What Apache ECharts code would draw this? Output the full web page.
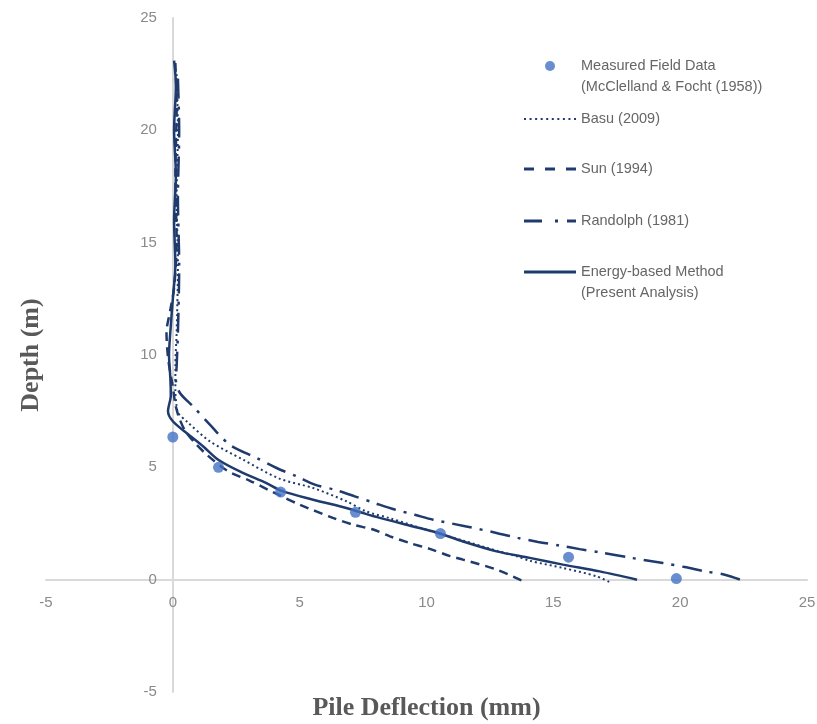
<!DOCTYPE html>
<html>
<head>
<meta charset="utf-8">
<script src="https://cdn.jsdelivr.net/npm/echarts@6/dist/echarts.min.js"></script>
<style>
html,body{margin:0;padding:0;background:#fff;}
#chart{width:817px;height:724px;}
</style>
</head>
<body>
<div id="chart"></div>
<script>
// ---- Data (x = pile deflection in mm, y = depth in m) ----
const xTicks = { min: -5, max: 25, interval: 5 };
const yTicks = { min: -5, max: 25, interval: 5 };

const measuredX = [0, 1.8, 4.25, 7.2, 10.55, 15.6, 19.85];
const measuredY = [6.35, 5.0, 3.9, 3.0, 2.05, 1.0, 0.05];

const basuX = [0.15, 0.2, 0.15, 0.2, 0.15, 0.1, 0.1, 0.14, 0.21, 0.54, 1.46, 2.77, 4.2, 5.53, 6.84, 7.62, 8.6, 10.0, 11.5, 12.8, 13.6, 14.07, 15.38, 16.7, 17.29];
const basuY = [22.5, 20, 17, 14, 11, 9.5, 8.4, 7.8, 7.42, 7.05, 6.16, 5.34, 4.5, 4.08, 3.49, 3.04, 2.72, 2.22, 1.72, 1.28, 1.03, 0.84, 0.52, 0.15, -0.15];

const sunX = [0.1, 0.15, 0.1, 0.15, 0.05, -0.1, -0.25, -0.2, -0.1, 0.0, 0.1, 0.25, 0.5, 0.9, 1.35, 1.97, 2.31, 3.04, 3.76, 4.22, 5.0, 6.31, 7.1, 7.9, 8.56, 9.34, 10.13, 10.93, 11.44, 12.76, 13.88];
const sunY = [23.0, 21, 18, 15, 13, 12, 11, 10, 9.2, 8.6, 7.8, 7.2, 6.6, 6.05, 5.55, 4.98, 4.75, 4.4, 4.0, 3.75, 3.34, 2.75, 2.45, 2.23, 1.93, 1.63, 1.37, 1.05, 0.89, 0.45, -0.1];

const randolphX = [0.2, 0.25, 0.2, 0.25, 0.2, 0.15, 0.12, 0.28, 0.8, 1.46, 2.25, 3.3, 4.09, 4.88, 5.6, 6.39, 7.17, 7.96, 8.75, 9.54, 10.26, 11.57, 12.76, 13.6, 14.4, 15.25, 16.04, 16.9, 18.07, 19.32, 20.18, 20.97, 21.76, 22.55];
const randolphY = [22.3, 20, 17, 14, 11, 9.5, 8.9, 8.31, 7.71, 6.9, 6.0, 5.42, 4.97, 4.6, 4.23, 4.0, 3.71, 3.41, 3.12, 2.89, 2.67, 2.37, 2.08, 1.86, 1.68, 1.52, 1.36, 1.2, 0.97, 0.74, 0.56, 0.37, 0.22, -0.07];

const energyX = [0.05, 0.12, 0.05, 0.12, 0.05, 0.1, 0.0, -0.1, -0.15, -0.1, -0.08, -0.19, 0.0, 0.54, 1.2, 1.79, 2.64, 3.69, 4.3, 5.53, 6.84, 7.4, 8.16, 9.47, 10.46, 11.44, 12.76, 14.07, 15.38, 16.83, 18.3];
const energyY = [23.1, 22, 20, 18, 16, 14, 12.5, 11, 10, 9, 8.2, 7.5, 7.05, 6.53, 5.93, 5.34, 4.82, 4.3, 3.95, 3.56, 3.19, 3.0, 2.75, 2.37, 2.08, 1.7, 1.26, 0.97, 0.67, 0.37, 0.0];

const names = {
  measured: 'Measured Field Data\n(McClelland & Focht (1958))',
  basu: 'Basu (2009)',
  sun: 'Sun (1994)',
  randolph: 'Randolph (1981)',
  energy: 'Energy-based Method\n(Present Analysis)'
};
const xName = 'Pile Deflection (mm)';
const yName = 'Depth (m)';

// ---- Layout ----
const W = 817, H = 724;
const G = { left: 46, right: 10, top: 18, bottom: 32 };
const plotW = W - G.left - G.right, plotH = H - G.top - G.bottom;
// axes cross at 0,0 (Excel style): shift each axis inward to the zero of the other
const yAxisOffset = -plotW * (0 - xTicks.min) / (xTicks.max - xTicks.min);
const xAxisOffset = -plotH * (0 - yTicks.min) / (yTicks.max - yTicks.min);

// ---- Build ----
const zip = (xs, ys) => xs.map((x, i) => [x, ys[i]]);
const NAVY = '#1f3a6d';
const DOT_BLUE = '#4472c4';
const AXIS = '#d9d9d9';
const LABEL = '#8a8a8a';

const lineSeries = (name, xs, ys, type, width) => ({
  name, type: 'line', data: zip(xs, ys), symbol: 'none', smooth: 0.3,
  lineStyle: { color: NAVY, width: width, type: type },
  itemStyle: { color: NAVY },
  z: 3
});

// legend sample icons (dash patterns drawn as small filled shapes)
const dotsPath = 'path://' + Array.from({ length: 10 }, (_, i) => 'M' + (i * 5.55).toFixed(2) + ',0h2v2h-2z').join('');
const icons = {
  measured: 'path://M0,0M52,10M31,5A5,5,0,1,1,21,5A5,5,0,1,1,31,5Z',
  basu: dotsPath,
  sun: 'path://M0,0h10v3h-10zM21,0h10v3h-10zM42,0h10v3h-10z',
  randolph: 'path://M0,0h18v3h-18zM31,0h3v3h-3zM43,0h9v3h-9z',
  energy: 'path://M0,0h52v3h-52z'
};

const legendText = { color: '#666666', fontSize: 14.5, fontFamily: 'Liberation Sans', lineHeight: 21 };
const mkLegend = (name, icon, color, top, twoLine, iconH) => ({
  data: [{ name: name, icon: icon, itemStyle: { color: color, borderWidth: 0 } }],
  left: 524, top: top, orient: 'vertical', padding: 0,
  itemWidth: 52, itemHeight: iconH, selectedMode: false, symbolKeepAspect: true,
  formatter: twoLine ? (n) => '\n' + n : (n) => n,
  textStyle: legendText
});

const axisCommon = {
  axisTick: { show: false },
  splitLine: { show: false },
  axisLabel: { color: LABEL, fontSize: 15, margin: 16, fontFamily: 'Liberation Sans' },
  nameTextStyle: { fontFamily: 'Liberation Serif', fontWeight: 'bold', fontSize: 26, color: '#595959' },
  axisLine: { onZero: false, lineStyle: { color: AXIS, width: 2 } }
};

const option = {
  animation: false,
  backgroundColor: '#ffffff',
  grid: { left: G.left, right: G.right, top: G.top, bottom: G.bottom, containLabel: false, outerBoundsMode: 'none' },
  xAxis: Object.assign({
    type: 'value', min: xTicks.min, max: xTicks.max, interval: xTicks.interval,
    name: xName, nameLocation: 'middle', nameGap: 116, position: 'bottom', offset: xAxisOffset
  }, axisCommon),
  yAxis: Object.assign({
    type: 'value', min: yTicks.min, max: yTicks.max, interval: yTicks.interval,
    name: yName, nameLocation: 'middle', nameGap: 129, nameRotate: 90, position: 'left', offset: yAxisOffset
  }, axisCommon),
  legend: [
    mkLegend(names.measured, icons.measured, DOT_BLUE, 34.5, true, 10),
    mkLegend(names.basu, icons.basu, NAVY, 108.5, false, 14),
    mkLegend(names.sun, icons.sun, NAVY, 158.5, false, 14),
    mkLegend(names.randolph, icons.randolph, NAVY, 210.5, false, 14),
    mkLegend(names.energy, icons.energy, NAVY, 240.5, true, 14)
  ],
  series: [
    lineSeries(names.basu, basuX, basuY, [2, 3], 2),
    lineSeries(names.sun, sunX, sunY, [9, 6], 2.5),
    lineSeries(names.randolph, randolphX, randolphY, [20, 8, 3, 8], 2.5),
    lineSeries(names.energy, energyX, energyY, 'solid', 2.5),
    {
      name: names.measured, type: 'scatter', data: zip(measuredX, measuredY),
      symbol: 'circle', symbolSize: 11, itemStyle: { color: DOT_BLUE }, z: 5
    }
  ]
};

const chart = echarts.init(document.getElementById('chart'), null, { renderer: 'canvas' });
chart.setOption(option);
</script>
</body>
</html>
